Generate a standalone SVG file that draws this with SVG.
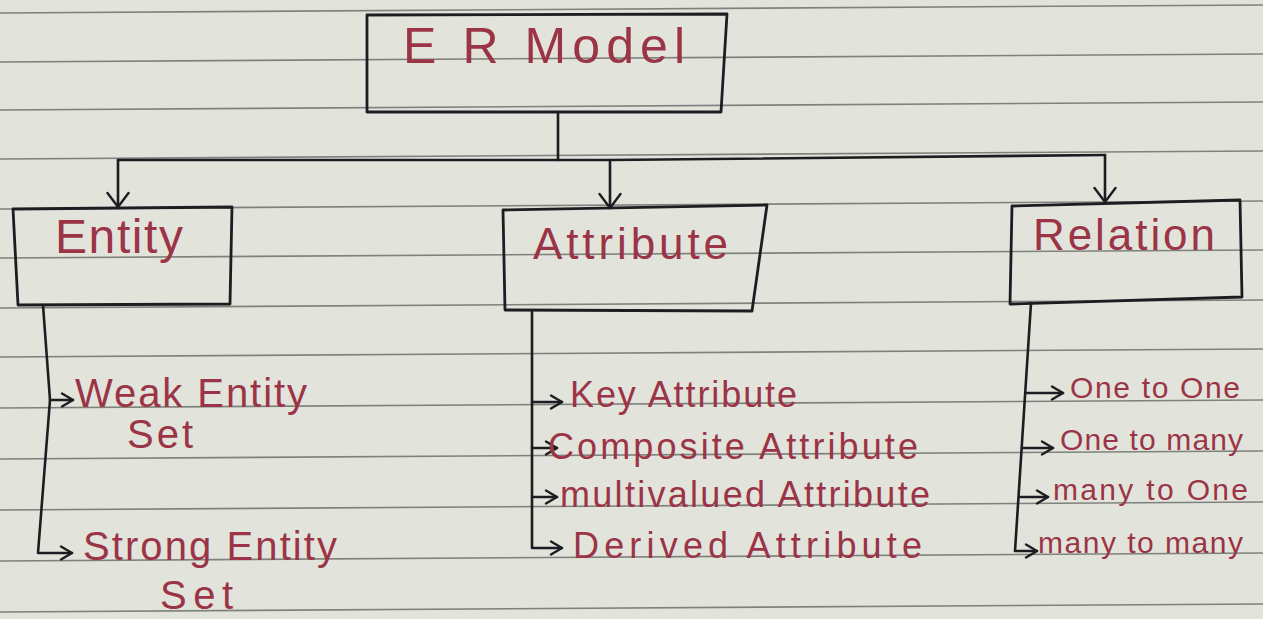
<svg xmlns="http://www.w3.org/2000/svg" width="1263" height="619" viewBox="0 0 1263 619">
  <style>
    .rule { stroke: #7f827c; stroke-width: 1.6; fill: none; }
    .pen { stroke: #1d1d21; stroke-width: 2.6; fill: none; stroke-linecap: round; stroke-linejoin: round; }
    .box { stroke: #1d1d21; stroke-width: 2.8; fill: none; stroke-linejoin: round; }
    .ink { fill: #9b3446; font-family: "Liberation Sans", Arial, sans-serif; }
  </style>
  <defs>
    <marker id="tip" viewBox="0 0 16 16" markerWidth="16" markerHeight="16" refX="14" refY="8" orient="auto" markerUnits="userSpaceOnUse">
      <path d="M3,1.5 L14,8 L3,14.5" fill="none" stroke="#1d1d21" stroke-width="2.4" stroke-linecap="round" stroke-linejoin="round"/>
    </marker>
    <marker id="tip-big" viewBox="0 0 20 24" markerWidth="20" markerHeight="24" refX="18" refY="12" orient="auto" markerUnits="userSpaceOnUse">
      <path d="M4,1.5 L18,12 L4,22.5" fill="none" stroke="#1d1d21" stroke-width="2.4" stroke-linecap="round" stroke-linejoin="round"/>
    </marker>
  </defs>

  <!-- ruled notebook paper -->
  <rect width="1263" height="619" fill="#e2e4dc"/>
  <g id="paper-rules">
    <line class="rule" x1="0" y1="13" x2="1263" y2="5"/>
    <line class="rule" x1="0" y1="62" x2="1263" y2="54"/>
    <line class="rule" x1="0" y1="110" x2="1263" y2="102"/>
    <line class="rule" x1="0" y1="159" x2="1263" y2="151"/>
    <line class="rule" x1="0" y1="209" x2="1263" y2="201"/>
    <line class="rule" x1="0" y1="258" x2="1263" y2="250"/>
    <line class="rule" x1="0" y1="308" x2="1263" y2="300"/>
    <line class="rule" x1="0" y1="357" x2="1263" y2="349"/>
    <line class="rule" x1="0" y1="408" x2="1263" y2="400"/>
    <line class="rule" x1="0" y1="459" x2="1263" y2="451"/>
    <line class="rule" x1="0" y1="510" x2="1263" y2="502"/>
    <line class="rule" x1="0" y1="561" x2="1263" y2="553"/>
    <line class="rule" x1="0" y1="612" x2="1263" y2="604"/>
  </g>

  <!-- connectors -->
  <g id="connectors">
    <path class="pen" d="M558,112 L558,160"/>
    <path class="pen" d="M118,160 L610,160 L1105,155"/>
    <path class="pen" d="M118,160 L118,207" marker-end="url(#tip-big)"/>
    <path class="pen" d="M610,160 L610,208" marker-end="url(#tip-big)"/>
    <path class="pen" d="M1105,155 L1105,202" marker-end="url(#tip-big)"/>

    <!-- Entity branch -->
    <path class="pen" d="M43,305 L50,400 L38,553 L72,553" marker-end="url(#tip)"/>
    <path class="pen" d="M50,400 L73,400" marker-end="url(#tip)"/>

    <!-- Attribute branch -->
    <path class="pen" d="M532,312 L532,548 L562,548" marker-end="url(#tip)"/>
    <path class="pen" d="M532,402 L562,402" marker-end="url(#tip)"/>
    <path class="pen" d="M532,448 L557,448" marker-end="url(#tip)"/>
    <path class="pen" d="M532,497 L557,497" marker-end="url(#tip)"/>

    <!-- Relation branch -->
    <path class="pen" d="M1031,303 L1015,551 L1037,551" marker-end="url(#tip)"/>
    <path class="pen" d="M1026,393 L1063,393" marker-end="url(#tip)"/>
    <path class="pen" d="M1023,448 L1053,448" marker-end="url(#tip)"/>
    <path class="pen" d="M1020,497 L1048,497" marker-end="url(#tip)"/>
  </g>

  <!-- nodes -->
  <g id="er-model">
    <path class="box" d="M367,15 L727,14 L721,112 L367,112 Z"/>
    <text class="ink" x="403" y="63" font-size="50" textLength="282">E R Model</text>
  </g>

  <g id="entity">
    <path class="box" d="M13,209 L232,207 L230,304 L18,305 Z"/>
    <text class="ink" x="55" y="253" font-size="48" textLength="128">Entity</text>
  </g>

  <g id="attribute">
    <path class="box" d="M503,210 L767,205 L752,311 L505,310 Z"/>
    <text class="ink" x="533" y="259" font-size="44" textLength="195">Attribute</text>
  </g>

  <g id="relation">
    <path class="box" d="M1012,206 L1240,200 L1242,297 L1010,304 Z"/>
    <text class="ink" x="1033" y="250" font-size="44" textLength="182">Relation</text>
  </g>

  <g id="weak-entity-set">
    <text class="ink" x="75" y="407" font-size="40" textLength="232">Weak Entity</text>
    <text class="ink" x="127" y="448" font-size="40" textLength="66">Set</text>
  </g>

  <g id="strong-entity-set">
    <text class="ink" x="83" y="560" font-size="40" textLength="254">Strong Entity</text>
    <text class="ink" x="160" y="609" font-size="40" textLength="73">Set</text>
  </g>

  <g id="key-attribute">
    <text class="ink" x="570" y="407" font-size="36" textLength="227">Key Attribute</text>
  </g>
  <g id="composite-attribute">
    <text class="ink" x="548" y="459" font-size="36" textLength="370">Composite Attribute</text>
  </g>
  <g id="multivalued-attribute">
    <text class="ink" x="560" y="507" font-size="36" textLength="370">multivalued Attribute</text>
  </g>
  <g id="derived-attribute">
    <text class="ink" x="573" y="558" font-size="36" textLength="349">Derived Attribute</text>
  </g>

  <g id="one-to-one">
    <text class="ink" x="1070" y="398" font-size="30" textLength="170">One to One</text>
  </g>
  <g id="one-to-many">
    <text class="ink" x="1060" y="450" font-size="30" textLength="183">One to many</text>
  </g>
  <g id="many-to-one">
    <text class="ink" x="1053" y="500" font-size="30" textLength="195">many to One</text>
  </g>
  <g id="many-to-many">
    <text class="ink" x="1038" y="553" font-size="30" textLength="205">many to many</text>
  </g>
</svg>
